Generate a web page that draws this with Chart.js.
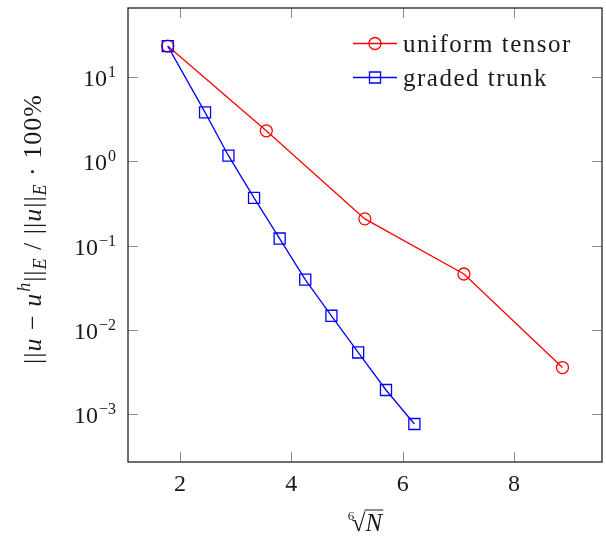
<!DOCTYPE html>
<html>
<head>
<meta charset="utf-8">
<script src="https://cdn.jsdelivr.net/npm/chart.js@4"></script>
<style>
  body { margin: 0; background: #fff; }
  #wrap { width: 606px; height: 538px; }
</style>
</head>
<body>
<div id="wrap"><canvas id="chart" width="606" height="538"></canvas></div>
<script>
// values
const seriesNames = ['uniform tensor', 'graded trunk'];
const uniformX = [1.78, 3.55, 5.32, 7.10, 8.87];
const uniformErr = [23.1, 2.29, 0.207, 0.046, 0.00358];
const gradedX = [1.78, 2.45, 2.87, 3.33, 3.79, 4.25, 4.72, 5.20, 5.70, 6.21];
const gradedErr = [23.1, 3.79, 1.16, 0.367, 0.121, 0.0395, 0.0147, 0.0054, 0.00194, 0.000767];
const xTicks = [2, 4, 6, 8];
const yExponents = [-3, -2, -1, 0, 1];

const SERIF = '"Liberation Serif", "DejaVu Serif", serif';
const INK = '#1a1a1a';

function pts(xs, ys) {
  return xs.map((x, i) => ({ x: x, y: ys[i] }));
}

function font(size, italic) {
  return (italic ? 'italic ' : '') + size + 'px ' + SERIF;
}

// draw a run of text pieces with sizes / italics / vertical shifts
function drawRich(ctx, parts, x, y, align, spacing) {
  ctx.letterSpacing = (spacing || 0) + 'px';
  let total = 0;
  parts.forEach(p => {
    ctx.font = font(p.s, p.i);
    p.w = ctx.measureText(p.t).width + (p.gap || 0);
    total += p.w;
  });
  let cx = x;
  if (align === 'center') cx = x - total / 2;
  if (align === 'right') cx = x - total;
  ctx.textAlign = 'left';
  ctx.textBaseline = 'alphabetic';
  parts.forEach(p => {
    ctx.font = font(p.s, p.i);
    ctx.fillText(p.t, cx, y + (p.dy || 0));
    cx += p.w;
  });
  ctx.letterSpacing = '0px';
  return total;
}

const decor = {
  id: 'decor',
  afterDraw(chart) {
    const ctx = chart.ctx;
    const a = chart.chartArea;
    const xs = chart.scales.x;
    const ys = chart.scales.y;
    ctx.save();

    // inward ticks on all four sides
    ctx.strokeStyle = '#8c8c8c';
    ctx.lineWidth = 1;
    const tl = 10;
    xTicks.forEach(v => {
      const px = Math.round(xs.getPixelForValue(v)) + 0.5;
      ctx.beginPath();
      ctx.moveTo(px, a.bottom); ctx.lineTo(px, a.bottom - tl);
      ctx.moveTo(px, a.top); ctx.lineTo(px, a.top + tl);
      ctx.stroke();
    });
    yExponents.forEach(e => {
      const py = Math.round(ys.getPixelForValue(Math.pow(10, e))) + 0.5;
      ctx.beginPath();
      ctx.moveTo(a.left, py); ctx.lineTo(a.left + tl, py);
      ctx.moveTo(a.right, py); ctx.lineTo(a.right - tl, py);
      ctx.stroke();
    });

    // frame
    ctx.strokeStyle = '#222';
    ctx.lineWidth = 1.3;
    ctx.strokeRect(a.left, a.top, a.right - a.left, a.bottom - a.top);

    ctx.fillStyle = INK;

    // x tick labels
    ctx.font = font(24, false);
    ctx.textAlign = 'center';
    ctx.textBaseline = 'alphabetic';
    xTicks.forEach(v => {
      ctx.fillText(String(v), xs.getPixelForValue(v), a.bottom + 29);
    });

    // y tick labels 10^e
    yExponents.forEach(e => {
      const py = ys.getPixelForValue(Math.pow(10, e));
      const ex = e < 0 ? '\u2212' + Math.abs(e) : String(e);
      drawRich(ctx, [
        { t: '10', s: 24, gap: 1 },
        { t: ex, s: 16, dy: -9 }
      ], 116, py + 9, 'right');
    });

    // x title: sixth root of N
    const cx = (a.left + a.right) / 2;
    const base = 531;
    ctx.font = font(25, false);
    const wRad = ctx.measureText('\u221A').width;
    ctx.font = font(25, true);
    const wN = ctx.measureText('N').width;
    const x0 = cx - (wRad + wN) / 2 + 2;
    ctx.font = font(25, false);
    ctx.textAlign = 'left';
    ctx.fillText('\u221A', x0, base);
    ctx.font = font(25, true);
    ctx.fillText('N', x0 + wRad, base);
    ctx.strokeStyle = INK;
    ctx.lineWidth = 1;
    ctx.beginPath();
    ctx.moveTo(x0 + wRad - 1, base - 21);
    ctx.lineTo(x0 + wRad + wN + 1, base - 21);
    ctx.stroke();
    ctx.font = font(13, false);
    ctx.fillText('6', x0 - 4, base - 11);

    // y title, rotated
    ctx.save();
    ctx.translate(41, 229);
    ctx.rotate(-Math.PI / 2);
    drawRich(ctx, [
      { t: '||', s: 26 },
      { t: 'u', s: 26, i: true },
      { t: ' \u2212 ', s: 26 },
      { t: 'u', s: 26, i: true, gap: 1 },
      { t: 'h', s: 18, i: true, dy: -11 },
      { t: '||', s: 26 },
      { t: 'E', s: 18, i: true, dy: 5 },
      { t: ' / ||', s: 26 },
      { t: 'u', s: 26, i: true },
      { t: '||', s: 26 },
      { t: 'E', s: 18, i: true, dy: 5 },
      { t: ' \u00B7 100%', s: 26 }
    ], 0, 0, 'center', 1);
    ctx.restore();

    // legend
    const rows = [43.5, 77.5];
    chart.data.datasets.forEach((ds, i) => {
      const y = rows[i];
      ctx.strokeStyle = ds.borderColor;
      ctx.fillStyle = 'rgba(0, 0, 0, 0)';
      ctx.lineWidth = 1.3;
      ctx.beginPath();
      ctx.moveTo(353, y); ctx.lineTo(397, y);
      ctx.stroke();
      Chart.helpers.drawPoint(ctx, {
        pointStyle: ds.pointStyle,
        radius: ds.pointRadius,
        borderWidth: 1.3
      }, 375, y);
      ctx.fillStyle = INK;
      ctx.font = font(25, false);
      ctx.letterSpacing = '1.5px';
      ctx.textAlign = 'left';
      ctx.textBaseline = 'alphabetic';
      ctx.fillText(ds.label, 403, y + 8);
      ctx.letterSpacing = '0px';
    });

    ctx.restore();
  }
};

new Chart(document.getElementById('chart'), {
  type: 'scatter',
  data: {
    datasets: [
      {
        label: seriesNames[0],
        data: pts(uniformX, uniformErr),
        showLine: true,
        borderColor: 'rgb(255, 0, 0)',
        backgroundColor: 'rgba(0, 0, 0, 0)',
        borderWidth: 1.3,
        pointStyle: 'circle',
        pointRadius: 6,
        pointBorderWidth: 1.3,
        order: 1
      },
      {
        label: seriesNames[1],
        data: pts(gradedX, gradedErr),
        showLine: true,
        borderColor: 'rgb(0, 0, 255)',
        backgroundColor: 'rgba(0, 0, 0, 0)',
        borderWidth: 1.3,
        pointStyle: 'rect',
        pointRadius: 7.8,
        pointBorderWidth: 1.3,
        order: 0
      }
    ]
  },
  options: {
    responsive: false,
    animation: false,
    layout: { autoPadding: false, padding: { top: 8, right: 4, left: 0, bottom: 0 } },
    plugins: {
      legend: { display: false },
      tooltip: { enabled: false }
    },
    scales: {
      x: {
        type: 'linear',
        min: 1.066,
        max: 9.58,
        grid: { display: false },
        border: { display: false },
        ticks: { display: false },
        afterBuildTicks: s => { s.ticks = xTicks.map(v => ({ value: v })); },
        afterFit: s => { s.height = 76; }
      },
      y: {
        type: 'logarithmic',
        min: 2.72e-4,
        max: 65.3,
        grid: { display: false },
        border: { display: false },
        ticks: { display: false },
        afterBuildTicks: s => { s.ticks = yExponents.map(e => ({ value: Math.pow(10, e) })); },
        afterFit: s => { s.width = 128; }
      }
    }
  },
  plugins: [decor]
});
</script>
</body>
</html>
